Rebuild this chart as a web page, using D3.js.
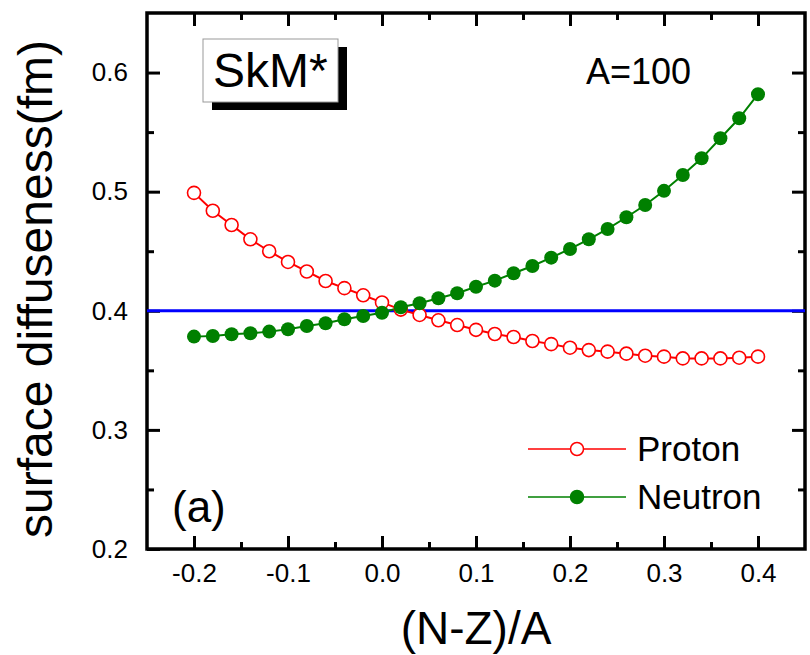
<!DOCTYPE html>
<html lang="en">
<head>
  <meta charset="UTF-8">
  <title>Surface diffuseness SkM*</title>
  <script src="https://d3js.org/d3.v7.min.js"></script>
  <style>
    body { margin: 0; background: #fff; }
    text { font-family: "Liberation Sans", Arial, sans-serif; fill: #000; }
  </style>
</head>
<body>
  <svg id="svg1"></svg>
  <script>
    // data
    const nz = [-0.20, -0.18, -0.16, -0.14, -0.12, -0.10, -0.08, -0.06, -0.04, -0.02,
                 0.00, 0.02, 0.04, 0.06, 0.08, 0.10, 0.12, 0.14, 0.16, 0.18,
                 0.20, 0.22, 0.24, 0.26, 0.28, 0.30, 0.32, 0.34, 0.36, 0.38, 0.40];
    const proton = [0.499, 0.484, 0.472, 0.460, 0.450, 0.441, 0.433, 0.425, 0.419, 0.413,
                    0.407, 0.401, 0.3965, 0.392, 0.388, 0.384, 0.3805, 0.378, 0.3746, 0.372,
                    0.369, 0.367, 0.3657, 0.364, 0.3623, 0.3615, 0.360, 0.360, 0.360, 0.3606, 0.3615];
    const neutron = [0.3783, 0.3788, 0.3803, 0.3811, 0.3825, 0.3845, 0.3872, 0.3895, 0.3929, 0.3956,
                     0.3984, 0.4029, 0.4063, 0.4105, 0.4147, 0.4202, 0.4253, 0.4315, 0.4376, 0.4446,
                     0.4519, 0.460, 0.4687, 0.4785, 0.4888, 0.5007, 0.514, 0.528, 0.5448, 0.5616, 0.5818];
    const refLine = 0.4;
    const xTicks = [-0.2, -0.1, 0.0, 0.1, 0.2, 0.3, 0.4];
    const xMinor = [-0.15, -0.05, 0.05, 0.15, 0.25, 0.35];
    const yTicks = [0.2, 0.3, 0.4, 0.5, 0.6];
    const yMinor = [0.25, 0.35, 0.45, 0.55];

    const W = 810, H = 655;
    const margin = {top: 13, right: 5, bottom: 106, left: 147};
    const x0 = margin.left, x1 = W - margin.right;
    const y0 = margin.top, y1 = H - margin.bottom;

    const xScale = d3.scaleLinear().domain([-0.25, 0.45]).range([x0, x1]);
    const yScale = d3.scaleLinear().domain([0.2, 0.65]).range([y1, y0]);

    const svg = d3.select('#svg1').attr('width', W).attr('height', H);

    const bigTick = 13, smallTick = 7;
    const fmt = d => d.toFixed(1);

    // inward ticks on all four sides
    const addAxis = (axis, tr) => svg.append('g')
      .attr('transform', tr)
      .call(axis)
      .call(g => g.select('.domain').remove())
      .call(g => g.selectAll('line').attr('stroke', '#000').attr('stroke-width', 3));

    const bottom = addAxis(d3.axisBottom(xScale).tickValues(xTicks).tickSize(-bigTick)
      .tickPadding(15).tickFormat(fmt), `translate(0,${y1})`);
    bottom.selectAll('text').attr('font-size', 26).attr('font-family', 'Liberation Sans, Arial, sans-serif')
      .attr('dy', '0.71em').attr('fill', '#000');
    addAxis(d3.axisBottom(xScale).tickValues(xMinor).tickSize(-smallTick).tickFormat(''), `translate(0,${y1})`);
    addAxis(d3.axisTop(xScale).tickValues(xTicks).tickSize(-bigTick).tickFormat(''), `translate(0,${y0})`);
    addAxis(d3.axisTop(xScale).tickValues(xMinor).tickSize(-smallTick).tickFormat(''), `translate(0,${y0})`);

    const left = addAxis(d3.axisLeft(yScale).tickValues(yTicks).tickSize(-bigTick)
      .tickPadding(19).tickFormat(fmt), `translate(${x0},0)`);
    left.selectAll('text').attr('font-size', 26).attr('font-family', 'Liberation Sans, Arial, sans-serif').attr('fill', '#000');
    addAxis(d3.axisLeft(yScale).tickValues(yMinor).tickSize(-smallTick).tickFormat(''), `translate(${x0},0)`);
    addAxis(d3.axisRight(yScale).tickValues(yTicks.filter(v => v > 0.2)).tickSize(-bigTick).tickFormat(''), `translate(${x1},0)`);
    addAxis(d3.axisRight(yScale).tickValues(yMinor).tickSize(-smallTick).tickFormat(''), `translate(${x1},0)`);

    // frame
    svg.append('rect')
      .attr('x', x0).attr('y', y0)
      .attr('width', x1 - x0).attr('height', y1 - y0)
      .attr('fill', 'none').attr('stroke', '#000').attr('stroke-width', 3.5);

    // reference line
    svg.append('line')
      .attr('x1', x0).attr('x2', x1)
      .attr('y1', yScale(refLine)).attr('y2', yScale(refLine))
      .attr('stroke', '#0000ff').attr('stroke-width', 3);

    const line = d3.line().x(d => xScale(d[0])).y(d => yScale(d[1]));
    const pData = nz.map((v, i) => [v, proton[i]]);
    const nData = nz.map((v, i) => [v, neutron[i]]);

    svg.append('path').datum(pData).attr('d', line)
      .attr('fill', 'none').attr('stroke', '#ff0000').attr('stroke-width', 2);
    svg.append('path').datum(nData).attr('d', line)
      .attr('fill', 'none').attr('stroke', '#008000').attr('stroke-width', 2);

    svg.append('g').selectAll('circle').data(pData).enter().append('circle')
      .attr('cx', d => xScale(d[0])).attr('cy', d => yScale(d[1])).attr('r', 6.5)
      .attr('fill', '#fff').attr('stroke', '#ff0000').attr('stroke-width', 1.6);
    svg.append('g').selectAll('circle').data(nData).enter().append('circle')
      .attr('cx', d => xScale(d[0])).attr('cy', d => yScale(d[1])).attr('r', 7)
      .attr('fill', '#008000');

    // axis titles
    svg.append('text')
      .attr('x', (x0 + x1) / 2).attr('y', 644)
      .attr('text-anchor', 'middle').attr('font-size', 46)
      .text('(N-Z)/A');
    svg.append('text')
      .attr('transform', `translate(52,${(y0 + y1) / 2 + 8}) rotate(-90)`)
      .attr('text-anchor', 'middle').attr('font-size', 48)
      .text('surface diffuseness(fm)');

    // SkM* label box with shadow
    svg.append('rect').attr('x', 212).attr('y', 47).attr('width', 135).attr('height', 63).attr('fill', '#000');
    svg.append('rect').attr('x', 203).attr('y', 39).attr('width', 135).attr('height', 63)
      .attr('fill', '#fff').attr('stroke', '#999').attr('stroke-width', 1);
    svg.append('text').attr('x', 213).attr('y', 87).attr('font-size', 48).text('SkM*');

    svg.append('text').attr('x', 586).attr('y', 84).attr('font-size', 36).text('A=100');
    svg.append('text').attr('x', 172).attr('y', 522).attr('font-size', 44).text('(a)');

    // legend
    const legend = [
      {name: 'Proton', color: '#ff0000', open: true, y: 449},
      {name: 'Neutron', color: '#008000', open: false, y: 497}
    ];
    const lg = svg.append('g').selectAll('g').data(legend).enter().append('g');
    lg.append('line').attr('x1', 528).attr('x2', 626)
      .attr('y1', d => d.y).attr('y2', d => d.y)
      .attr('stroke', d => d.color).attr('stroke-width', 1.5);
    lg.append('circle').attr('cx', 577).attr('cy', d => d.y).attr('r', 6.5)
      .attr('fill', d => d.open ? '#fff' : d.color)
      .attr('stroke', d => d.color).attr('stroke-width', 1.5);
    lg.append('text').attr('x', 637).attr('y', d => d.y + 12).attr('font-size', 35).text(d => d.name);
  </script>
</body>
</html>
